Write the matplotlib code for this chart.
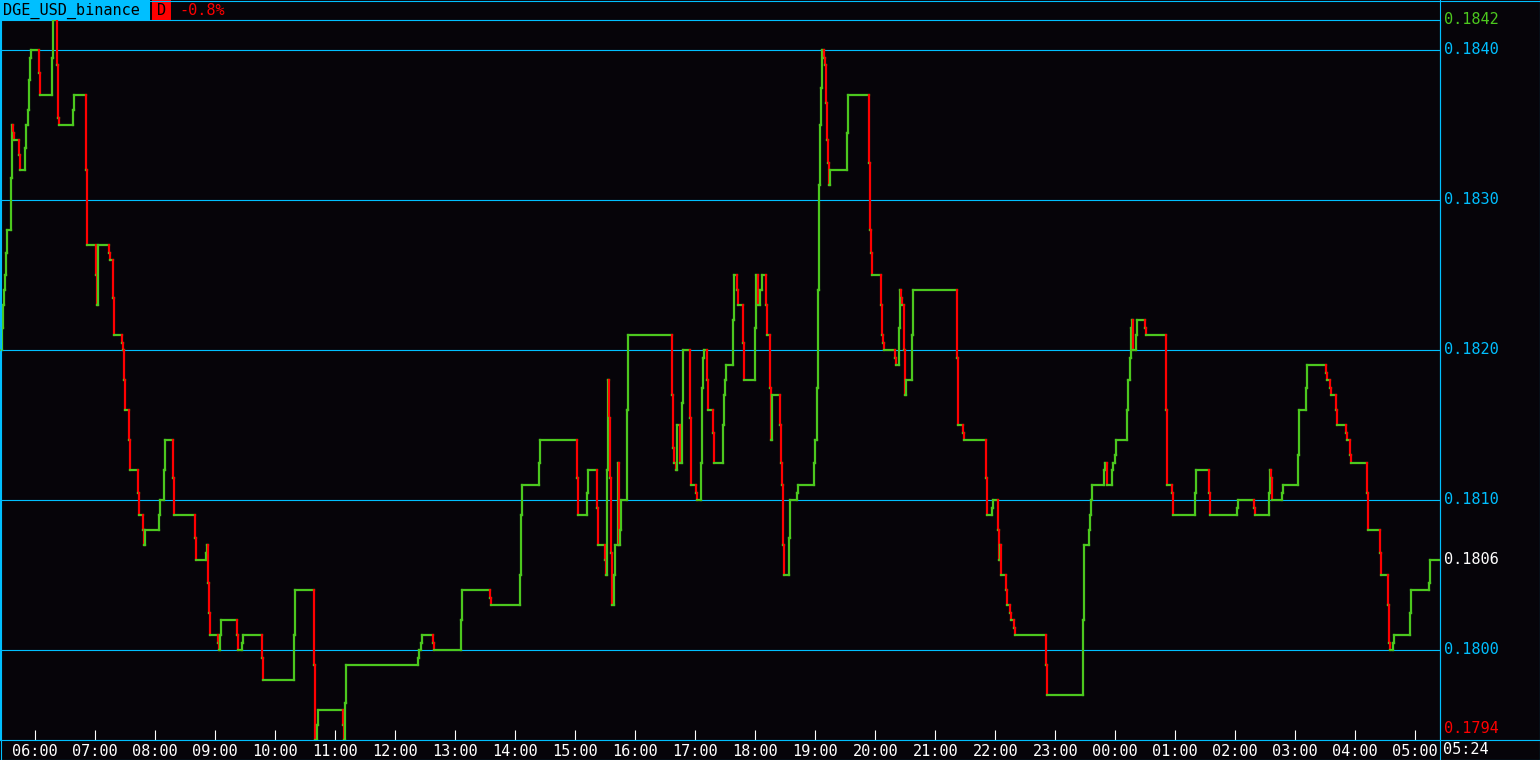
import matplotlib
matplotlib.use("Agg")
import matplotlib.pyplot as plt
import numpy as np
from matplotlib.collections import LineCollection
from matplotlib.lines import Line2D
from matplotlib.patches import Rectangle

SYMBOL = "DGE_USD_binance"
PERIOD = "D"
CHANGE = "-0.8%"
START_HOUR = 5 + 24.7 / 60   # left edge of the 24h window
END_LABEL = "05:24"

# minutes since window start, price set at that minute (step series)
MINUTES = [
    0, 1.7, 2.7, 4, 5, 6, 6.7, 11, 11.7, 13.3, 14, 19, 20, 25, 26, 28, 29, 30, 31,
    39, 40, 52, 53, 56.7, 57.7, 58.7, 73, 74, 86, 87, 96, 97, 98, 109, 110, 113,
    114, 122, 123, 124, 125, 129, 130, 138, 139, 143, 144, 145, 159, 160, 164,
    165, 173, 174, 195, 196, 206, 207, 208, 209, 210, 218, 219, 220, 221, 237, 238,
    241.7, 242.7, 262, 263, 294, 295, 314, 315, 317, 318, 343, 344, 345, 346, 418,
    419, 421, 422, 433, 434, 461, 462,
    490, 491, 520, 521, 522, 539, 540, 577, 578, 587, 588, 597, 598, 605, 606, 607,
    608, 609.3, 610.3, 611.3, 612.3, 613.7, 615, 617.7, 618.7, 620, 620.7, 627, 628,
    672, 673, 674, 676, 677, 680, 682, 683, 690, 691, 696, 697, 701, 702, 703, 704,
    707, 708, 713, 714,
    722.7, 724, 725, 726, 733, 734, 736.7, 737.7, 742.7, 743.7, 754.7, 755.7, 757.7,
    760, 762, 765.7, 766.7, 769.7, 770.7, 772, 780, 781, 782, 783, 784, 789, 790,
    797, 798, 814, 815, 817.3, 818.3, 819.3, 820.3, 821.3, 822.3, 823.7, 824.7,
    825.7, 826.7, 827.7, 828.7, 829.7, 847, 848, 869, 870, 871, 872, 881, 882, 883,
    884, 895, 896, 899, 900, 901, 902, 904, 905, 906, 912, 913, 957, 958,
    962.7, 963.7, 986, 987, 992, 993, 998, 999, 1000, 1001, 1006, 1007, 1010, 1011,
    1014, 1015, 1046, 1047, 1083, 1084, 1089, 1090, 1091, 1092, 1104, 1105, 1107,
    1112, 1113, 1115, 1116, 1127, 1128, 1130, 1131, 1132, 1133, 1136, 1137, 1145,
    1146, 1166, 1167, 1172, 1173, 1195, 1196,
    1209, 1210, 1237, 1238, 1254, 1255, 1269, 1270, 1271, 1272, 1282, 1283, 1298,
    1299, 1306, 1307, 1326, 1327, 1330, 1331, 1336, 1337, 1346, 1347, 1350, 1351,
    1367, 1368, 1380, 1381, 1388, 1389, 1390, 1393, 1394, 1410, 1411, 1429, 1430,
]
PRICES = [
    0.1820, 0.18215, 0.1823, 0.1824, 0.1825, 0.18265, 0.1828, 0.18315, 0.1835,
    0.18345, 0.1834, 0.1833, 0.1832, 0.18335, 0.1835, 0.1836, 0.1838, 0.18395,
    0.1840, 0.18385, 0.1837, 0.18395, 0.1842, 0.1839, 0.18355, 0.1835, 0.1836,
    0.1837, 0.1832, 0.1827, 0.1825, 0.1823, 0.1827, 0.18265, 0.1826, 0.18235,
    0.1821, 0.18205, 0.1820, 0.1818, 0.1816, 0.1814, 0.1812, 0.18105, 0.1809,
    0.1808, 0.1807, 0.1808, 0.1809, 0.1810, 0.1812, 0.1814, 0.18115, 0.1809,
    0.18075, 0.1806, 0.18065, 0.1807, 0.18045, 0.18025, 0.1801, 0.18005, 0.1800,
    0.1801, 0.1802, 0.1801, 0.1800,
    0.18005, 0.1801, 0.17995, 0.1798, 0.1801, 0.1804, 0.1799, 0.1794, 0.1795,
    0.1796, 0.1795, 0.1794, 0.17965, 0.1799, 0.17995, 0.1800, 0.18005, 0.1801,
    0.18005, 0.1800, 0.1802, 0.1804,
    0.18035, 0.1803, 0.1805, 0.1809, 0.1811, 0.18125, 0.1814, 0.18115, 0.1809,
    0.18105, 0.1812, 0.18095, 0.1807, 0.1806, 0.1805, 0.1812, 0.1818, 0.18155,
    0.18115, 0.18065, 0.1803, 0.1805, 0.1807, 0.18125, 0.1807, 0.1808, 0.1810,
    0.1816, 0.1821, 0.1817, 0.18135, 0.18125, 0.1812, 0.1815, 0.18125, 0.18165,
    0.1820, 0.18155, 0.1811, 0.18105, 0.1810, 0.18125, 0.18175, 0.18195, 0.1820,
    0.1818, 0.1816, 0.18145, 0.18125,
    0.1815, 0.1817, 0.1818, 0.1819, 0.1822, 0.1825, 0.1824, 0.1823, 0.18205,
    0.1818, 0.18215, 0.1825, 0.1823, 0.1824, 0.1825, 0.1823, 0.1821, 0.18175,
    0.1814, 0.1817, 0.1815, 0.18125, 0.1811, 0.1807, 0.1805, 0.18075, 0.1810,
    0.18105, 0.1811, 0.18125, 0.1814, 0.18175, 0.1824, 0.1831, 0.1835, 0.18375,
    0.1840, 0.18395, 0.1839, 0.18365, 0.1834, 0.18325, 0.1831, 0.1832, 0.18345,
    0.1837, 0.18325, 0.1828, 0.18265, 0.1825, 0.1823, 0.1821, 0.18205, 0.1820,
    0.18195, 0.1819, 0.18215, 0.1824, 0.18235, 0.1823, 0.1820, 0.1817, 0.1818,
    0.1821, 0.1824, 0.18195, 0.1815,
    0.18145, 0.1814, 0.18115, 0.1809, 0.18095, 0.1810, 0.1808, 0.1806, 0.1807,
    0.1805, 0.1804, 0.1803, 0.18025, 0.1802, 0.18015, 0.1801, 0.1799, 0.1797,
    0.1802, 0.1807, 0.1808, 0.1809, 0.1810, 0.1811, 0.1812, 0.18125, 0.1811,
    0.1812, 0.18125, 0.1813, 0.1814, 0.1816, 0.1818, 0.18195, 0.18215, 0.1822,
    0.1820, 0.1821, 0.1822, 0.18215, 0.1821, 0.1816, 0.1811, 0.18105, 0.1809,
    0.18105, 0.1812,
    0.18105, 0.1809, 0.18095, 0.1810, 0.18095, 0.1809, 0.18105, 0.1812, 0.18115,
    0.1810, 0.18105, 0.1811, 0.1813, 0.1816, 0.18175, 0.1819, 0.18185, 0.1818,
    0.18175, 0.1817, 0.1816, 0.1815, 0.18145, 0.1814, 0.1813, 0.18125, 0.18105,
    0.1808, 0.18065, 0.1805, 0.1803, 0.18005, 0.1800, 0.18005, 0.1801, 0.18025,
    0.1804, 0.18045, 0.1806,
]
GRID_LEVELS = [0.1800, 0.1810, 0.1820, 0.1830, 0.1840]
HOURS = list(range(6, 30))

BG = "#060409"
CYAN = "#00BFFF"
GREEN = "#4CC81E"
RED = "#FF0000"
WHITE = "#FFFFFF"
FONT = "DejaVu Sans Mono"
FS = 11

W, H = 1540, 760


def fx(px):
    return px / W


def fy(py):
    return 1 - py / H


def step_segments(t, p, t_end):
    segs, cols = [], []
    for i in range(len(t)):
        t_next = t[i + 1] if i + 1 < len(t) else t_end
        segs.append([(t[i], p[i]), (t_next, p[i])])
        cols.append(GREEN)
        if i + 1 < len(t):
            segs.append([(t_next, p[i]), (t_next, p[i + 1])])
            cols.append(GREEN if p[i + 1] > p[i] else RED)
    return segs, cols


fig = plt.figure(figsize=(W / 100, H / 100), dpi=100, facecolor=BG)
ax = fig.add_axes([0, fy(740), fx(1440), fy(20) - fy(740)], facecolor=BG)

t = START_HOUR + np.array(MINUTES) / 60
p = np.array(PRICES)
t_end = START_HOUR + 24

ax.set_xlim(START_HOUR, t_end)
ax.set_ylim(0.1794, 0.1842)

for lvl in GRID_LEVELS:
    ax.axhline(lvl, color=CYAN, lw=0.8, zorder=1)

segs, cols = step_segments(t, p, t_end)
lc = LineCollection(segs, colors=cols, linewidths=1.6, capstyle="projecting", zorder=3)
ax.add_collection(lc)

for s in ax.spines.values():
    s.set_color(CYAN)
    s.set_linewidth(0.8)

ax.set_yticks([])
ax.set_xticks(HOURS)
ax.set_xticklabels([f"{h % 24:02d}:00" for h in HOURS], fontfamily=FONT, fontsize=FS)
ax.tick_params(axis="x", direction="in", length=7.2, width=0.8, color=WHITE,
               labelcolor=WHITE, pad=3)

# price labels on the right
hi, lo, last = p.max(), p.min(), p[-1]
labels = [(lvl, CYAN) for lvl in GRID_LEVELS] + [(hi, GREEN), (last, WHITE)]
for val, c in labels:
    ax.annotate(f"{val:.4f}", xy=(1, val), xycoords=("axes fraction", "data"),
                xytext=(3, 0), textcoords="offset points", va="center", ha="left",
                color=c, fontfamily=FONT, fontsize=FS, annotation_clip=False)
ax.annotate(f"{lo:.4f}", xy=(1, lo), xycoords=("axes fraction", "data"),
            xytext=(3, 3), textcoords="offset points", va="bottom", ha="left",
            color=RED, fontfamily=FONT, fontsize=FS, annotation_clip=False)

# frame lines
frame = [
    ([0, W], [0.5, 0.5]), ([0, W], [759.5, 759.5]), ([0.5, 0.5], [0, H]),
    ([1539.5, 1539.5], [0, H]), ([1440, 1440], [0, H]), ([1440, W], [740, 740]),
]
for xs, ys in frame:
    fig.add_artist(Line2D([fx(x) for x in xs], [fy(y) for y in ys],
                          color=CYAN, lw=0.8, transform=fig.transFigure))

# header bar
fig.add_artist(Rectangle((0, fy(20)), fx(150), fy(0) - fy(20), facecolor=CYAN,
                         edgecolor="none", transform=fig.transFigure))
fig.add_artist(Rectangle((fx(152), fy(20)), fx(19), fy(0) - fy(20), facecolor=RED,
                         edgecolor="none", transform=fig.transFigure))
fig.text(fx(3), fy(10.5), SYMBOL, color="#000000", fontfamily=FONT, fontsize=FS,
         va="center", ha="left")
fig.text(fx(161.5), fy(10.5), PERIOD, color="#000000", fontfamily=FONT, fontsize=FS,
         va="center", ha="center")
fig.text(fx(179), fy(10.5), CHANGE, color=RED, fontfamily=FONT, fontsize=FS,
         va="center", ha="left")
fig.text(fx(1443), fy(750), END_LABEL, color=WHITE, fontfamily=FONT, fontsize=FS,
         va="center", ha="left")

fig.savefig("out.png", dpi=100, facecolor=BG)
